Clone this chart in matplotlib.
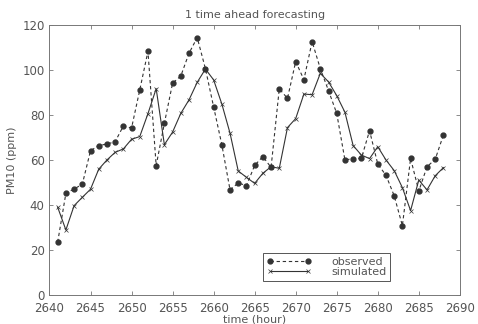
import matplotlib.pyplot as plt
import numpy as np

hours = np.arange(2641, 2689)

observed = [23.5, 45.2, 47.1, 49.2, 64.1, 66.4, 67.1, 68.1, 75.1, 74.2,
            91.1, 108.3, 57.5, 76.3, 94.1, 97.3, 107.4, 114.4, 100.6, 83.6,
            66.8, 46.7, 49.8, 48.6, 57.6, 61.5, 56.7, 91.6, 87.4, 103.7,
            95.7, 112.6, 100.6, 90.8, 80.7, 60.0, 60.6, 60.7, 73.0, 58.2,
            53.2, 44.1, 30.8, 60.7, 46.2, 57.0, 60.3, 71.1]

simulated = [39.0, 28.9, 39.7, 43.4, 47.0, 55.9, 60.0, 63.4, 64.9, 69.2,
             70.4, 80.6, 91.7, 66.8, 72.4, 80.7, 86.7, 94.5, 100.4, 95.6,
             84.9, 71.9, 55.1, 52.3, 49.6, 54.1, 57.0, 56.3, 74.4, 78.4,
             89.3, 89.0, 98.5, 94.7, 88.6, 81.2, 66.4, 62.2, 60.6, 65.9,
             60.0, 55.3, 47.7, 37.5, 51.1, 46.7, 53.0, 56.6]

txt = '#555555'
plt.rcParams['font.size'] = 8
plt.rcParams['text.color'] = txt

fig = plt.figure(figsize=(4.78, 3.24), dpi=100)
ax = fig.add_axes([0.1035, 0.0895, 0.8585, 0.8335])

ax.plot(hours, observed, color='#333333', linestyle='--', dashes=(3, 2.5), linewidth=0.8,
        marker='o', markersize=3.5, markerfacecolor='#333333', markeredgecolor='#333333',
        label='observed')
ax.plot(hours, simulated, color='#333333', linestyle='-', linewidth=0.8,
        marker='x', markersize=3.5, markeredgewidth=0.5, label='simulated')

ax.set_xlim(2640, 2690)
ax.set_ylim(0, 120)
ax.set_xticks(np.arange(2640, 2691, 5))
ax.set_yticks(np.arange(0, 121, 20))
ax.tick_params(direction='in', top=True, right=True, length=3, width=0.6,
               colors='#777777', labelcolor=txt, labelsize=8.5)
ax.tick_params(axis='x', pad=5)
for s in ax.spines.values():
    s.set_color('#777777')
    s.set_linewidth(0.7)

ax.set_title('1 time ahead forecasting', fontsize=8, color=txt, pad=5)
ax.set_xlabel('time (hour)', fontsize=8, color=txt, labelpad=0)
ax.set_ylabel('PM10 (ppm)', fontsize=8, color=txt, labelpad=4)

leg = ax.legend(loc='lower left', bbox_to_anchor=(0.508, 0.033), handlelength=4.0,
                numpoints=2, fancybox=False, framealpha=1, fontsize=8,
                borderpad=0.3, labelspacing=0.05, handletextpad=1.8)
leg.get_frame().set_edgecolor('#555555')
leg.get_frame().set_linewidth(0.7)

fig.savefig('out.png', dpi=100)
